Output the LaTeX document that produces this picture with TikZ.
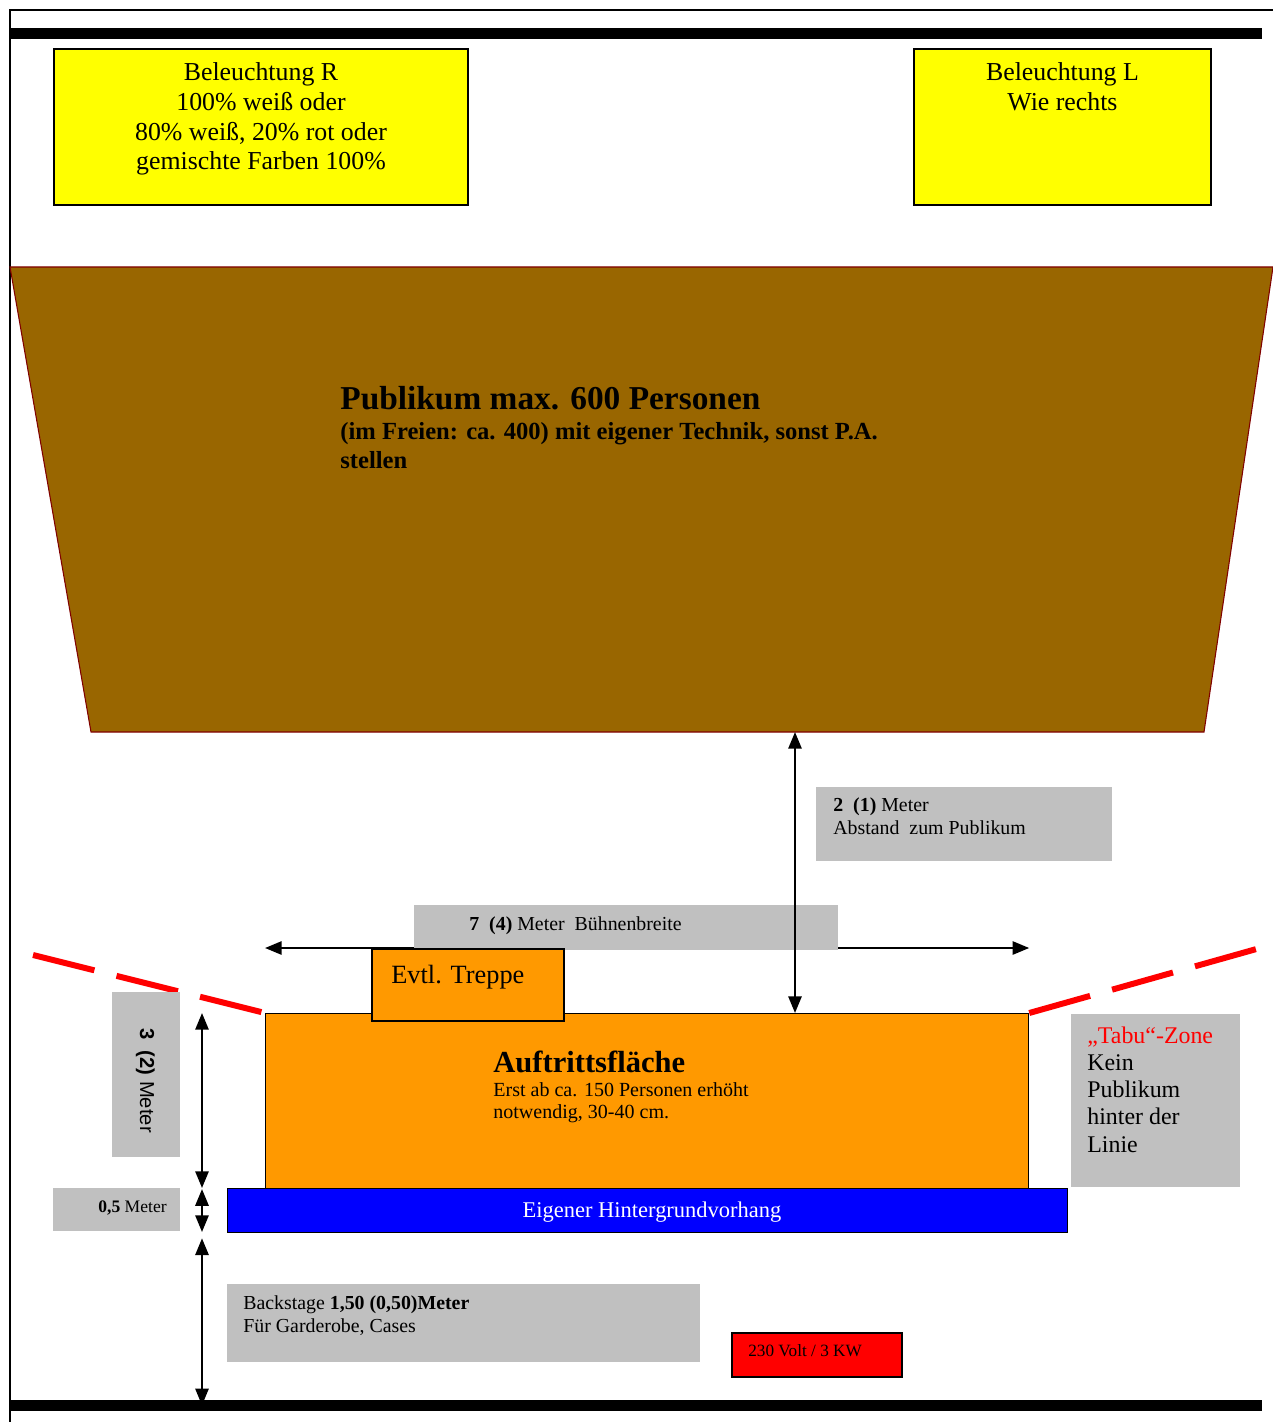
\documentclass[tikz,border=0pt]{standalone}
\usepackage{fontspec}
\setmainfont{Liberation Serif}
\setsansfont{Liberation Sans}
\usepackage{xcolor}
\usetikzlibrary{arrows.meta}
\usetikzlibrary{calc}
\usetikzlibrary{positioning}

\definecolor{publikumbraun}{HTML}{996600}
\definecolor{buehnenorange}{HTML}{FF9900}
\definecolor{infograu}{HTML}{C0C0C0}
\definecolor{randrot}{HTML}{800000}
\definecolor{lampengelb}{HTML}{FFFF00}

\newcommand{\pxu}{0.02cm}

\tikzset{
  balken/.style={fill=black, inner sep=0pt, anchor=north west, minimum width=1252*\pxu, minimum height=11*\pxu},
  lampbox/.style={fill=lampengelb, draw=black, line width=1.1pt, inner sep=0pt, anchor=north west},
  lamptext/.style={inner sep=0pt, align=center, font=\fontsize{14.7}{17}\selectfont},
  infobox/.style={fill=infograu, inner sep=0pt, anchor=north west},
  infotext/.style={anchor=base west, inner sep=0pt, align=left, font=\fontsize{11.3}{13}\selectfont},
  buehnenbox/.style={fill=buehnenorange, draw=black, line width=0.7pt, inner sep=0pt, anchor=north west},
  treppenbox/.style={fill=buehnenorange, draw=black, line width=1.1pt, inner sep=0pt, anchor=north west},
  vorhangbox/.style={fill=blue, draw=black, line width=0.8pt, inner sep=0pt, anchor=north west},
  stromkasten/.style={fill=red, draw=black, line width=1.1pt, inner sep=0pt, anchor=north west},
  masspfeil/.style={{Triangle[length=9.5pt,width=7.5pt]}-{Triangle[length=9.5pt,width=7.5pt]}, line width=1.3pt},
  tabulinie/.style={red, line width=3.4pt, dash pattern=on 36pt off 13pt},
}

\begin{document}
\begin{tikzpicture}[x=\pxu, y=-\pxu]
  \useasboundingbox (0,0) rectangle (1273,1422);

  % Rahmen und Waende
  \draw[line width=1.1pt] (10,1422) -- (10,10) -- (1273,10);
  \node[balken] (balkenoben) at (10,28) {};
  \node[balken] (balkenunten) at (10,1400) {};

  % Beleuchtung
  \node[lampbox, minimum width=414*\pxu, minimum height=156*\pxu] (lampeR) at (53,48) {};
  \node[lamptext, below=8pt of lampeR.north] (lampeRtext) {Beleuchtung R\\100\% weiß oder\\80\% weiß, 20\% rot oder\\gemischte Farben 100\%};
  \node[lampbox, minimum width=297*\pxu, minimum height=156*\pxu] (lampeL) at (913,48) {};
  \node[lamptext, below=8pt of lampeL.north] (lampeLtext) {Beleuchtung L\\Wie rechts};

  % Publikum
  \filldraw[fill=publikumbraun, draw=randrot, line width=0.6pt] (10,267) -- (1273,267) -- (1204,732) -- (91,732) -- cycle;
  \node[anchor=base west, inner sep=0pt, font=\fontsize{19}{22}\selectfont\bfseries] (publikum) at (340,409) {Publikum max. 600 Personen};
  \node[anchor=base west, inner sep=0pt, align=left, font=\fontsize{14}{16}\selectfont\bfseries] (publikumtext) at (340,468) {(im Freien: ca. 400) mit eigener Technik, sonst P.A.\\stellen};
  \coordinate (publikumrand) at (795,732);

  \node[infobox, minimum width=296*\pxu, minimum height=74*\pxu] (abstand) at (816,787) {};
  \node[infotext] (abstandtext) at (833,834) {\textbf{2\ \ (1)} Meter\\Abstand\ \ zum Publikum};

  % Buehne
  \node[buehnenbox, minimum width=763*\pxu, minimum height=175*\pxu] (buehne) at (265,1013) {};
  \node[anchor=base west, inner sep=0pt, font=\fontsize{17.4}{20}\selectfont\bfseries] (buehnentitel) at (493,1072) {Auftrittsfläche};
  \node[anchor=base west, inner sep=0pt, align=left, font=\fontsize{11.4}{12.5}\selectfont] (buehnentext) at (493,1118) {Erst ab ca. 150 Personen erhöht\\notwendig, 30-40 cm.};

  \coordinate (breitelinie) at (0,948);
  \draw[masspfeil] (breitelinie -| buehne.west) -- (breitelinie -| buehne.east);
  \node[infobox, minimum width=424*\pxu, minimum height=45*\pxu] (breite) at (414,905) {};
  \node[infotext] (breitetext) at (469,930) {\textbf{7\ \ (4)} Meter\ \ Bühnenbreite};

  \node[treppenbox, minimum width=192*\pxu, minimum height=72*\pxu] (treppe) at (371,948) {};
  \node[anchor=base west, inner sep=0pt, font=\fontsize{15}{18}\selectfont] (treppentext) at (391,983) {Evtl. Treppe};

  \draw[masspfeil] (publikumrand) -- (publikumrand |- buehne.north);

  \node[vorhangbox, minimum width=840*\pxu, minimum height=44*\pxu] (vorhang) at (227,1188) {};
  \node[anchor=base, inner sep=0pt, text=white, font=\fontsize{12.8}{15}\selectfont] (vorhangtext) at (652,1217) {Eigener Hintergrundvorhang};

  % Tabu-Zone
  \coordinate (tabulinks) at (33,955);
  \coordinate (taburechts) at (1260,948);
  \draw[tabulinie] (tabulinks) -- (buehne.north west);
  \draw[tabulinie] (buehne.north east) -- (taburechts);
  \node[infobox, minimum width=169*\pxu, minimum height=173*\pxu] (tabu) at (1071,1014) {};
  \node[infotext, font=\fontsize{13.6}{15.5}\selectfont] (tabutext) at (1087,1152) {\textcolor{red}{„Tabu“-Zone}\\Kein\\Publikum\\hinter der\\Linie};

  % Masse links
  \node[infobox, minimum width=68*\pxu, minimum height=165*\pxu] (hoehe) at (112,992) {};
  \node[rotate=-90, anchor=base west, inner sep=0pt, font=\sffamily\fontsize{11.5}{13}\selectfont] (hoehetext) at (140,1028) {\textbf{3\ \ (2)} Meter};
  \node[infobox, minimum width=127*\pxu, minimum height=43*\pxu] (halbmeter) at (53,1188) {};
  \node[anchor=base east, inner sep=0pt, font=\fontsize{10}{12}\selectfont] (halbmetertext) at (167,1212) {\textbf{0,5} Meter};

  \coordinate (massachse) at (202,0);
  \draw[masspfeil] (massachse |- buehne.north) -- (massachse |- vorhang.north);
  \draw[masspfeil, shorten <=0.6pt, shorten >=0.8pt] (massachse |- vorhang.north) -- (massachse |- vorhang.south);
  \draw[masspfeil, shorten <=2.8pt, shorten >=-3pt] (massachse |- vorhang.south) -- (massachse |- balkenunten.north);

  % Backstage
  \node[infobox, minimum width=473*\pxu, minimum height=78*\pxu] (backstage) at (227,1284) {};
  \node[infotext] (backstagetext) at (243,1332) {Backstage \textbf{1,50 (0,50)Meter}\\Für Garderobe, Cases};
  \node[stromkasten, minimum width=170*\pxu, minimum height=44*\pxu] (strom) at (731,1332) {};
  \node[anchor=base west, inner sep=0pt, font=\fontsize{9.8}{12}\selectfont] (stromtext) at (748,1356) {230 Volt / 3 KW};
\end{tikzpicture}
\end{document}
